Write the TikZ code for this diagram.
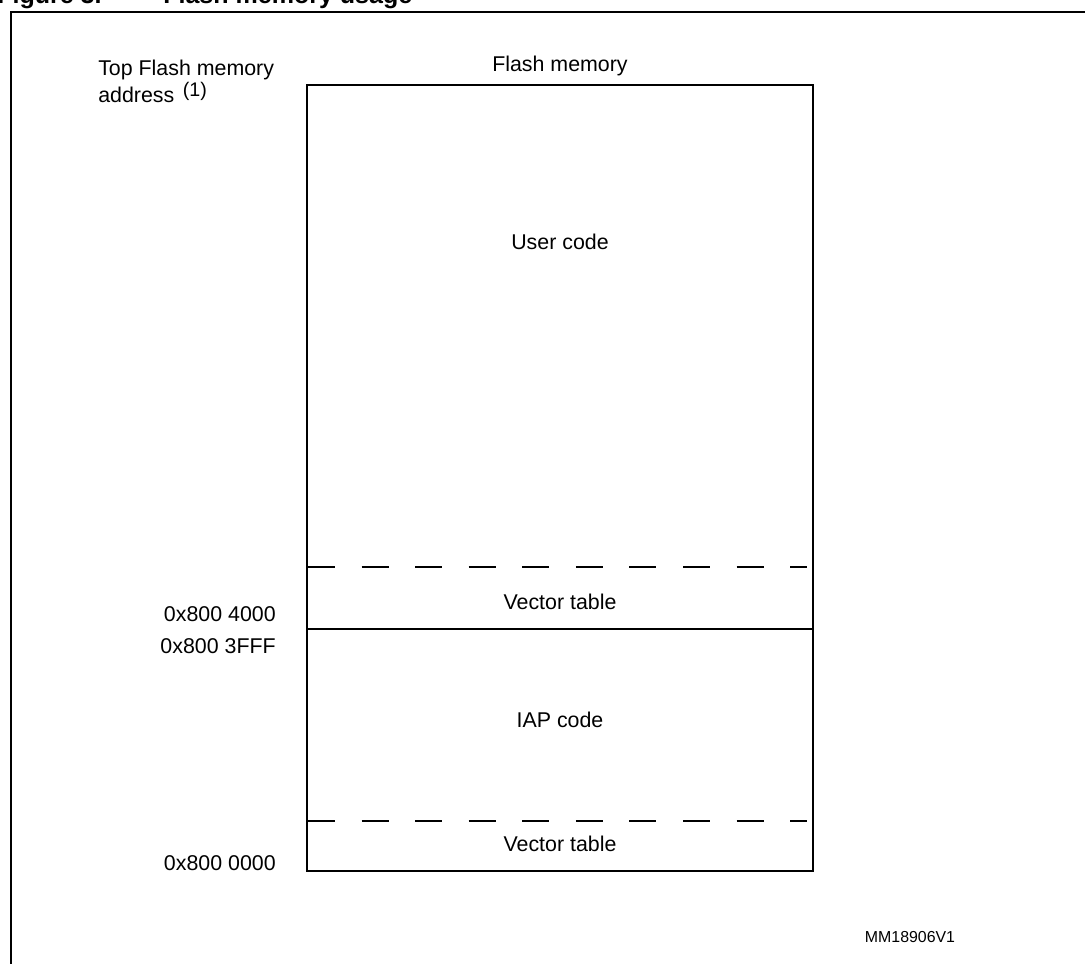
\documentclass[tikz,border=0pt]{standalone}
\usepackage{fontspec}
\setmainfont{Liberation Sans}
\usepackage{tikz}

\begin{document}
\begin{tikzpicture}[x=0.025cm,y=-0.025cm]
        \tikzstyle{every node}+=[inner sep=0pt,font=\fontsize{15.2}{18}\selectfont]
        \tikzstyle{addr}=[anchor=east]
        \tikzstyle{sepline}=[line width=0.8pt,dash pattern=on 19.2pt off 18.9pt]
        \tikzstyle{titlefont}=[anchor=base west,font=\bfseries\fontsize{17.8}{20}\selectfont]
        \useasboundingbox (0,0) rectangle (1085,963);
        \clip (0,0) rectangle (1085,963);
        % frame and caption
        \draw [black,line width=1.4pt] (11,970) -- (11,12) -- (1090,12);
        \node [titlefont] (fig) at (-3,3) {Figure 3.};
        \node [titlefont] (cap) at (163,3) {Flash memory usage};
        % memory map
        \coordinate (tl) at (307,85);
        \coordinate (br) at (813,871);
        \draw [black,line width=1.2pt] (tl) rectangle (br);
        \coordinate (up1) at (308,567);
        \coordinate (up2) at (807,567);
        \coordinate (mid1) at (307,629);
        \coordinate (mid2) at (813,629);
        \coordinate (lo1) at (308,821);
        \coordinate (lo2) at (807,821);
        \draw [black,sepline] (up1) -- (up2);
        \draw [black,line width=1.2pt] (mid1) -- (mid2);
        \draw [black,sepline] (lo1) -- (lo2);
        \node (flash) at (560,66) {Flash memory};
        \node (user) at (560,242) {User code};
        \node (vt1) at (560,602) {Vector table};
        \node (iap) at (560,720) {IAP code};
        \node (vt0) at (560,844) {Vector table};
        % addresses
        \node [anchor=base west] (top) at (98,75) {Top Flash memory};
        \node [anchor=base west] (topb) at (98,102) {address\hspace{0.4em}\raisebox{0.5ex}{\fontsize{14}{16}\selectfont(1)}};
        \node [addr] (a4000) at (276,614) {0x800 4000};
        \node [addr] (a3fff) at (276,646) {0x800 3FFF};
        \node [addr] (a0000) at (276,863) {0x800 0000};
        \node [font=\fontsize{11.3}{13}\selectfont] (ref) at (910,937) {MM18906V1};
\end{tikzpicture}
\end{document}
